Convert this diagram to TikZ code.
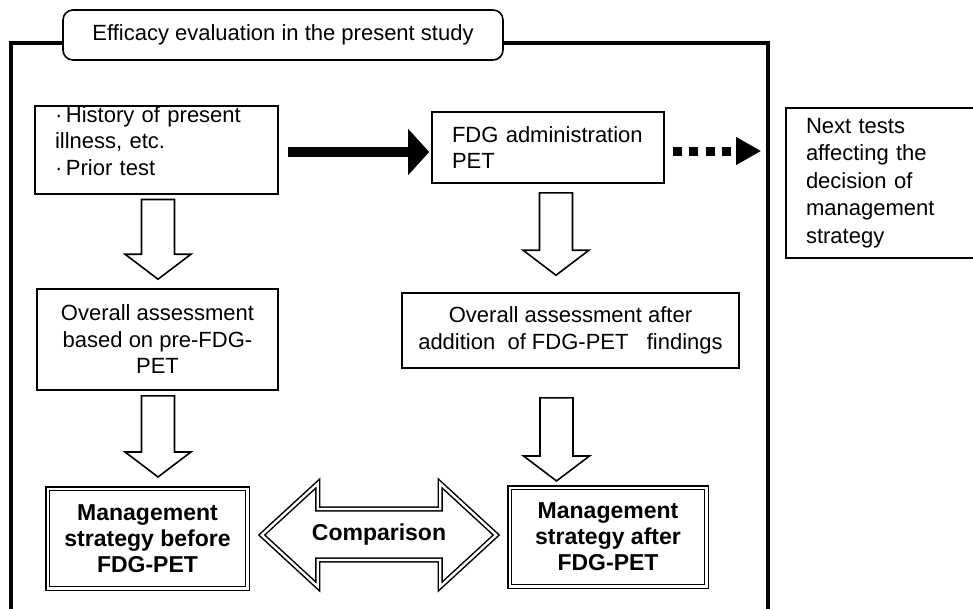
\documentclass[tikz,border=0pt]{standalone}
\usepackage{fontspec}
\setmainfont{Liberation Sans}
\usepackage{tikz}
\usetikzlibrary{calc}
\usetikzlibrary{arrows.meta}

\newcommand{\plainfont}{\fontsize{22}{26.5}\selectfont}
\newcommand{\strongfont}{\fontsize{23}{26}\selectfont\bfseries}
\newcommand{\blockdown}[2]{%
  \draw[hollowarrow] ($(#1)+(-16.5,0)$) -- ($(#1)+(16.5,0)$) -- ($(#2)+(16.5,-25)$) -- ($(#2)+(33,-25)$)
    -- (#2) -- ($(#2)+(-33,-25)$) -- ($(#2)+(-16.5,-25)$) -- cycle;}

\tikzset{
  plainbox/.style={draw, line width=1.6pt, align=center, inner sep=0pt, font=\plainfont},
  listbox/.style={plainbox, align=left, inner xsep=20pt},
  mgmtbox/.style={draw, double, double distance=2.4pt, line width=1.5pt, align=center, inner sep=0pt, font=\strongfont},
  titlebox/.style={draw, line width=1.6pt, rounded corners=10pt, fill=white, inner sep=0pt, font=\plainfont},
  hollowarrow/.style={draw, line width=1.6pt, line join=miter},
  twinarrow/.style={draw, double, double distance=2.4pt, line width=1.5pt, line join=miter},
  boldarrow/.style={line width=10pt, -{Triangle[length=21pt,width=45pt]}, shorten >=2pt},
  dotsarrow/.style={line width=9pt, dash pattern=on 9pt off 7.5pt, -{Triangle[length=25pt,width=26pt]}, shorten >=24pt}
}

\begin{document}
\begin{tikzpicture}[x=1pt,y=-1pt]
  \useasboundingbox (0,0) rectangle (973,608);
  \draw[line width=4.5pt] (11,620) -- (11,43) -- (768,43) -- (768,620);
  \node[titlebox, minimum width=440pt, minimum height=50pt] (title) at (283,35) {Efficacy evaluation in the present study};
  \node[listbox, text width=203pt, minimum height=86pt] (hist) at (156.5,150) {·\,History of present\\illness, etc.\\·\,Prior test\\[-8pt]\mbox{}};
  \node[listbox, text width=192pt, minimum height=71pt] (fdg) at (548,147.5) {FDG administration\\PET};
  \node[listbox, text width=164pt, minimum height=150pt, font=\fontsize{22}{27.5}\selectfont] (nexttests) at (888,183) {Next tests\\affecting the\\decision of\\management\\strategy};
  \node[plainbox, minimum width=241pt, minimum height=101pt] (pre) at (157.5,339.5) {Overall assessment\\based on pre-FDG-\\PET};
  \node[plainbox, minimum width=337pt, minimum height=75pt] (post) at (570.5,330.5) {Overall assessment after\\addition~ of FDG-PET~~ findings};
  \node[mgmtbox, minimum width=199.6pt, minimum height=99.6pt] (before) at (147.5,538.5) {Management\\strategy before\\FDG-PET};
  \node[mgmtbox, minimum width=196.6pt, minimum height=98.6pt] (after) at (608,537) {Management\\strategy after\\FDG-PET};

  \coordinate (h1) at ($(hist.east)+(9,2)$);
  \draw[boldarrow] (h1) -- (h1 -| fdg.west);
  \coordinate (f1) at ($(fdg.east)+(8,3.5)$);
  \draw[dotsarrow] (f1) -- (f1 -| nexttests.west);

  \coordinate (a1) at ($(hist.south)+(1.5,5)$);
  \coordinate (b1) at ($(a1 |- pre.north)+(0,-9)$);
  \coordinate (a2) at ($(pre.south)+(0.5,5)$);
  \coordinate (b2) at ($(a2 |- before.north)+(0,-11)$);
  \coordinate (a3) at ($(fdg.south)+(8,9)$);
  \coordinate (b3) at ($(a3 |- post.north)+(0,-17)$);
  \coordinate (a4) at ($(post.south)+(-14,29)$);
  \coordinate (b4) at ($(a4 |- after.north)+(0,-6)$);
  \blockdown{a1}{b1}
  \blockdown{a2}{b2}
  \blockdown{a3}{b3}
  \blockdown{a4}{b4}

  \coordinate (cl) at ($(before.east)+(13.7,-3.5)$);
  \coordinate (cr) at ($(cl -| after.west)+(-12.7,0)$);
  \draw[twinarrow] (cl) -- ($(cl)+(56,-51.5)$) -- ($(cl)+(56,-26)$) -- ($(cr)+(-56,-26)$) -- ($(cr)+(-56,-51.5)$)
    -- (cr) -- ($(cr)+(-56,51.5)$) -- ($(cr)+(-56,25)$) -- ($(cl)+(56,25)$) -- ($(cl)+(56,51.5)$) -- cycle;
  \node[font=\strongfont] (cmp) at ($(cl)!0.5!(cr)$) {Comparison};
\end{tikzpicture}
\end{document}
